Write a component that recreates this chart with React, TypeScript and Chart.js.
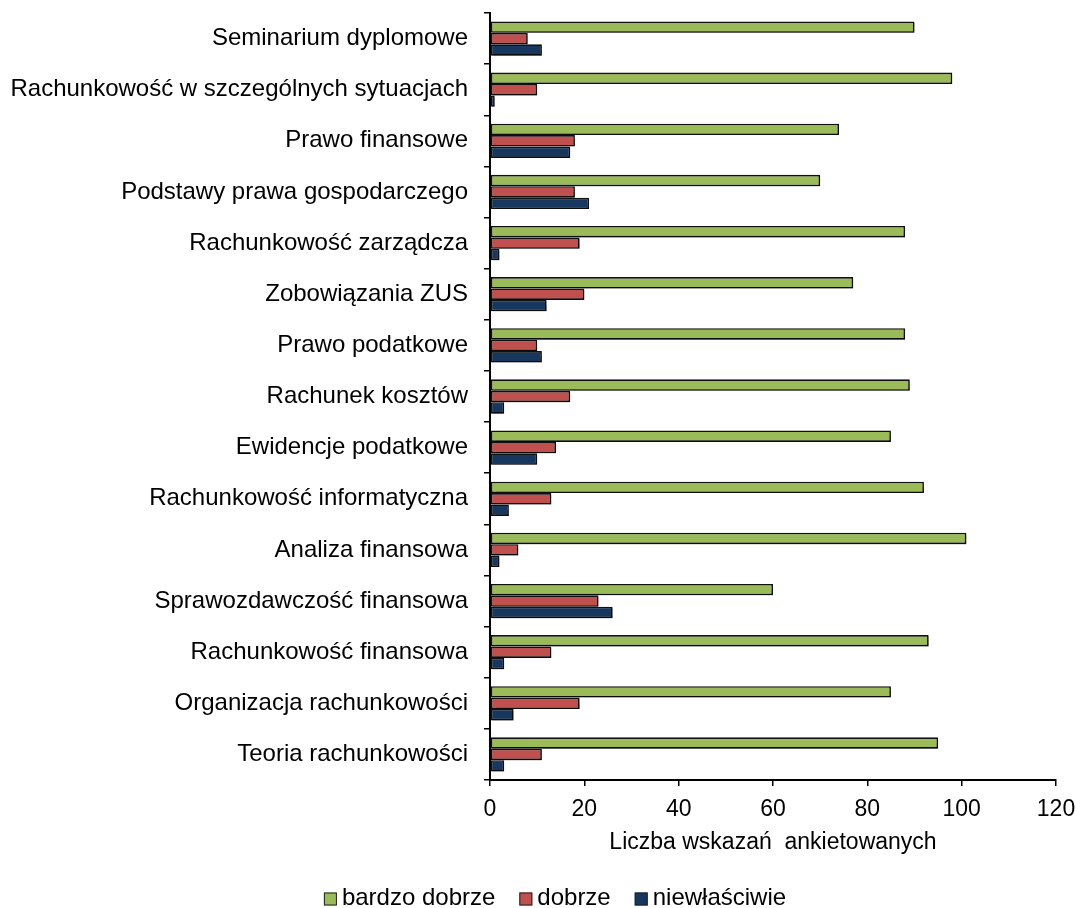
import React, { useEffect, useRef } from "react";
import { Chart, registerables } from "chart.js";

Chart.register(...registerables);

const categories = [
  "Seminarium dyplomowe",
  "Rachunkowość w szczególnych sytuacjach",
  "Prawo finansowe",
  "Podstawy prawa gospodarczego",
  "Rachunkowość zarządcza",
  "Zobowiązania ZUS",
  "Prawo podatkowe",
  "Rachunek kosztów",
  "Ewidencje podatkowe",
  "Rachunkowość informatyczna",
  "Analiza finansowa",
  "Sprawozdawczość finansowa",
  "Rachunkowość finansowa",
  "Organizacja rachunkowości",
  "Teoria rachunkowości",
];

const bardzoDobrze = [90, 98, 74, 70, 88, 77, 88, 89, 85, 92, 101, 60, 93, 85, 95];
const dobrze = [8, 10, 18, 18, 19, 20, 10, 17, 14, 13, 6, 23, 13, 19, 11];
const niewlasciwie = [11, 1, 17, 21, 2, 12, 11, 3, 10, 4, 2, 26, 3, 5, 3];

const seriesNames = ["bardzo dobrze", "dobrze", "niewłaściwie"];
const seriesColors = ["#9BBB59", "#C0504D", "#17375E"];
const xTitle = "Liczba wskazań  ankietowanych";

const FONT = "'Liberation Sans', Arial, Helvetica, sans-serif";

const shadowPlugin = {
  id: "barShadow",
  beforeDatasetsDraw(chart: any) {
    const ctx = chart.ctx;
    ctx.save();
    ctx.shadowColor = "rgba(0,0,0,0.35)";
    ctx.shadowOffsetX = 1.5;
    ctx.shadowOffsetY = 1.5;
    ctx.shadowBlur = 1;
  },
  afterDatasetsDraw(chart: any) {
    chart.ctx.restore();
  },
};

// Legend drawn at the bottom, centred like the original
const legendPlugin = {
  id: "bottomLegend",
  afterDraw(chart: any) {
    const ctx = chart.ctx;
    const ds = chart.data.datasets;
    const box = 13;
    const gapBoxText = 5;
    const gapItems = 24;
    const cy = 898;
    const centerX = 555;
    ctx.save();
    ctx.font = `24px ${FONT}`;
    ctx.textBaseline = "middle";
    ctx.textAlign = "left";
    const widths = ds.map((d: any) => box + gapBoxText + ctx.measureText(d.label).width);
    const total = widths.reduce((a: number, b: number) => a + b, 0) + gapItems * (ds.length - 1);
    let x = centerX - total / 2;
    ds.forEach((d: any, i: number) => {
      ctx.fillStyle = d.backgroundColor;
      ctx.fillRect(x, cy - box / 2 + 1, box, box);
      ctx.strokeStyle = "#222";
      ctx.lineWidth = 1;
      ctx.strokeRect(x + 0.5, cy - box / 2 + 1.5, box - 1, box - 1);
      ctx.fillStyle = "#000";
      ctx.fillText(d.label, x + box + gapBoxText, cy);
      x += widths[i] + gapItems;
    });
    ctx.restore();
  },
};

export default function App() {
  const ref = useRef<HTMLCanvasElement | null>(null);

  useEffect(() => {
    document.body.style.margin = "0";
    if (!ref.current) return;
    const mk = (label: string, data: number[], color: string) => ({
      label,
      data,
      backgroundColor: color,
      borderColor: "#111111",
      borderWidth: 1.6,
      borderSkipped: false,
      barPercentage: 1.0,
      categoryPercentage: 0.67,
    });
    const chart = new Chart(ref.current, {
      type: "bar",
      data: {
        labels: categories,
        datasets: [
          mk(seriesNames[0], bardzoDobrze, seriesColors[0]),
          mk(seriesNames[1], dobrze, seriesColors[1]),
          mk(seriesNames[2], niewlasciwie, seriesColors[2]),
        ],
      },
      plugins: [shadowPlugin, legendPlugin],
      options: {
        indexAxis: "y",
        responsive: false,
        animation: false,
        devicePixelRatio: 1,
        layout: { padding: { top: 13, right: 20, left: 0, bottom: 31 } },
        plugins: {
          tooltip: { enabled: false },
          legend: { display: false },
        },
        scales: {
          x: {
            min: 0,
            max: 120,
            ticks: {
              stepSize: 20,
              color: "#000",
              padding: 10,
              font: { family: FONT, size: 23 },
            },
            grid: {
              drawOnChartArea: false,
              drawTicks: true,
              tickLength: 6,
              color: "#000",
              lineWidth: 1.5,
            },
            border: { display: true, color: "#000", width: 2 },
            title: {
              display: true,
              text: xTitle,
              color: "#000",
              font: { family: FONT, size: 23 },
              padding: { top: 21, bottom: 21 },
            },
            afterFit: (s: any) => {
              s.height = 97;
              s.paddingLeft = 0;
              s.paddingRight = 0;
            },
          },
          y: {
            z: 1,
            ticks: {
              color: "#000",
              padding: 16,
              font: { family: FONT, size: 24 },
            },
            grid: {
              drawOnChartArea: false,
              drawTicks: true,
              tickLength: 6,
              color: "#000",
              lineWidth: 1.5,
              offset: true,
            },
            border: { display: true, color: "#000", width: 2 },
            afterFit: (s: any) => {
              s.width = 490;
              s.paddingTop = 0;
              s.paddingBottom = 0;
            },
          },
        },
      },
    } as any);
    return () => chart.destroy();
  }, []);

  return (
    <div style={{ position: "fixed", left: 0, top: 0, width: 1076, height: 908, background: "#fff" }}>
      <canvas ref={ref} width={1076} height={908} style={{ width: 1076, height: 908, display: "block" }} />
    </div>
  );
}
